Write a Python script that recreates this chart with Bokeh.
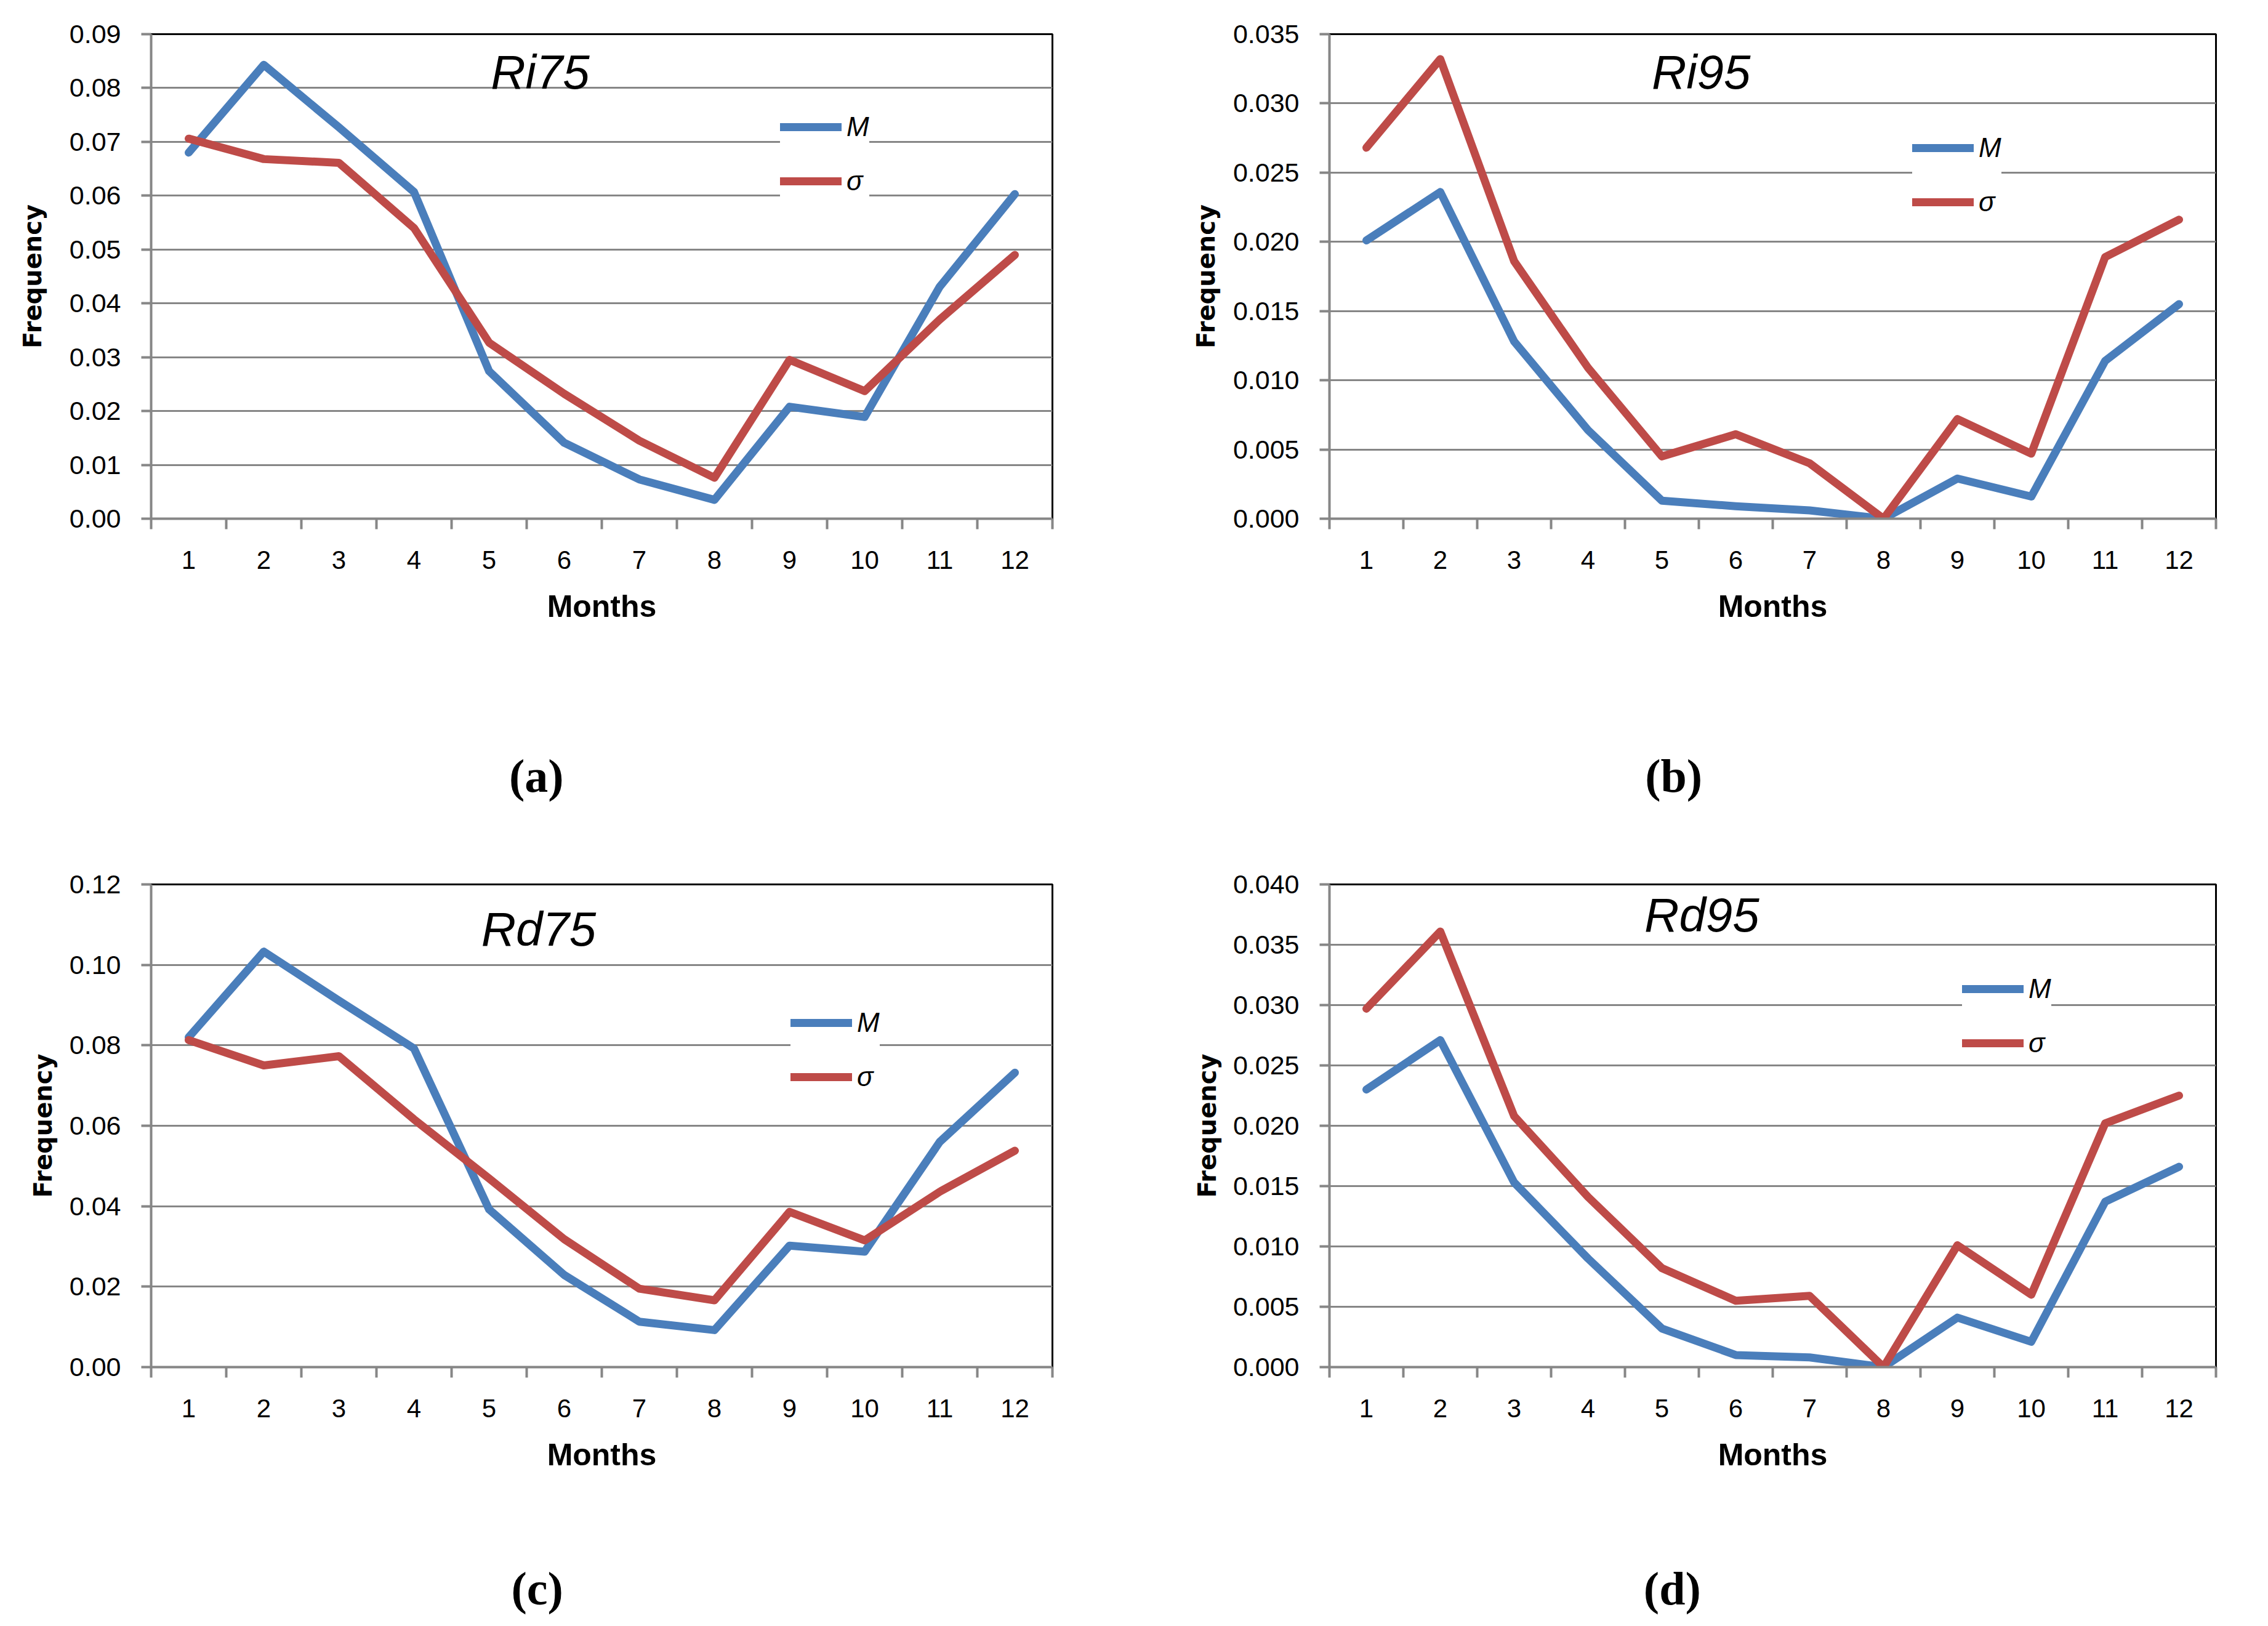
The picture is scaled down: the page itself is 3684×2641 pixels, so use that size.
from bokeh.plotting import figure
from bokeh.models import (Range1d, FixedTicker, PrintfTickFormatter, Legend,
                          LegendItem, Label, LinearAxis)
from bokeh.layouts import row, column
from bokeh.embed import file_html
from bokeh.resources import INLINE

# ---------------- data ----------------
months = list(range(1, 13))

ri75_M = [0.0680, 0.0843, 0.0727, 0.0607, 0.0274, 0.0141, 0.0073, 0.0035, 0.0208, 0.0189, 0.0431, 0.0603]
ri75_S = [0.0706, 0.0668, 0.0661, 0.0540, 0.0327, 0.0232, 0.0145, 0.0076, 0.0295, 0.0237, 0.0370, 0.0490]

ri95_M = [0.0201, 0.0236, 0.0128, 0.0064, 0.0013, 0.0009, 0.0006, 0.0000, 0.0029, 0.0016, 0.0114, 0.0155]
ri95_S = [0.0268, 0.0332, 0.0186, 0.0109, 0.0045, 0.0061, 0.0040, 0.0000, 0.0072, 0.0047, 0.0189, 0.0216]

rd75_M = [0.0820, 0.1033, 0.0911, 0.0792, 0.0392, 0.0229, 0.0113, 0.0092, 0.0302, 0.0287, 0.0560, 0.0732]
rd75_S = [0.0813, 0.0750, 0.0773, 0.0616, 0.0469, 0.0318, 0.0195, 0.0166, 0.0386, 0.0315, 0.0436, 0.0538]

rd95_M = [0.0230, 0.0271, 0.0153, 0.0090, 0.0032, 0.0010, 0.0008, 0.0000, 0.0041, 0.0021, 0.0137, 0.0166]
rd95_S = [0.0297, 0.0361, 0.0208, 0.0141, 0.0082, 0.0055, 0.0059, 0.0000, 0.0101, 0.0060, 0.0202, 0.0225]

ticks_a = [0.00, 0.01, 0.02, 0.03, 0.04, 0.05, 0.06, 0.07, 0.08, 0.09]
ticks_b = [0.000, 0.005, 0.010, 0.015, 0.020, 0.025, 0.030, 0.035]
ticks_c = [0.00, 0.02, 0.04, 0.06, 0.08, 0.10, 0.12]
ticks_d = [0.000, 0.005, 0.010, 0.015, 0.020, 0.025, 0.030, 0.035, 0.040]

series_names = ["M", "σ"]
titles = ["Ri75", "Ri95", "Rd75", "Rd95"]
panel_tags = ["(a)", "(b)", "(c)", "(d)"]

BLUE = "#4a7ebb"
RED = "#be4b48"
GRAY = "#868686"
FONT = "Liberation Sans"

FIG_W, FIG_H = 1834, 1312

# layout per panel (borders in px, annotation anchors)
panels = [
    dict(M=ri75_M, S=ri75_S, ticks=ticks_a, fmt="%.2f", title=titles[0], tag=panel_tags[0],
         left=245, right=125, top=55, bottom=470, ttl=(5.68, 124),
         leg=(1022, 523), ystand=34, tag_x=5.63, tag_stand=202),
    dict(M=ri95_M, S=ri95_S, ticks=ticks_b, fmt="%.3f", title=titles[1], tag=panel_tags[1],
         left=325, right=69, top=55, bottom=470, ttl=(5.53, 124),
         leg=(947, 489), ystand=18, tag_x=5.16, tag_stand=202),
    dict(M=rd75_M, S=rd75_S, ticks=ticks_c, fmt="%.2f", title=titles[2], tag=panel_tags[2],
         left=245, right=125, top=124, bottom=398, ttl=(5.66, 1525 - 1320),
         leg=(1039, 446), ystand=17, tag_x=5.64, tag_stand=144),
    dict(M=rd95_M, S=rd95_S, ticks=ticks_d, fmt="%.3f", title=titles[3], tag=panel_tags[3],
         left=325, right=69, top=124, bottom=398, ttl=(5.54, 1502 - 1320),
         leg=(1028, 501), ystand=16, tag_x=5.14, tag_stand=144),
]


def make_panel(cfg):
    ymin, ymax = cfg["ticks"][0], cfg["ticks"][-1]
    p = figure(width=FIG_W, height=FIG_H, output_backend="svg", toolbar_location=None,
               x_range=Range1d(0.5, 12.5), y_range=Range1d(ymin, ymax),
               min_border_left=cfg["left"], min_border_right=cfg["right"],
               min_border_top=cfg["top"], min_border_bottom=cfg["bottom"])
    p.background_fill_color = "white"
    p.border_fill_color = "white"
    p.outline_line_color = "black"
    p.outline_line_width = 3

    # lines
    rM = p.line(months, cfg["M"], line_color=BLUE, line_width=13,
                line_cap="round", line_join="round")
    rS = p.line(months, cfg["S"], line_color=RED, line_width=13,
                line_cap="round", line_join="round")

    # x axis
    xa = p.xaxis[0]
    xa.ticker = FixedTicker(ticks=months, minor_ticks=[m - 0.5 for m in months] + [months[-1] + 0.5])
    xa.major_tick_line_color = None
    xa.major_tick_out = 0
    xa.major_tick_in = 0
    xa.minor_tick_line_color = GRAY
    xa.minor_tick_line_width = 4
    xa.minor_tick_out = 17
    xa.minor_tick_in = 0
    xa.axis_line_color = GRAY
    xa.axis_line_width = 4
    xa.major_label_text_font = FONT
    xa.major_label_text_font_size = "42px"
    xa.major_label_text_color = "black"
    xa.major_label_standoff = 35
    xa.axis_label = "Months"
    xa.axis_label_text_font = FONT
    xa.axis_label_text_font_style = "bold"
    xa.axis_label_text_font_size = "50px"
    xa.axis_label_text_color = "black"
    xa.axis_label_standoff = 30

    # panel tag, shown as the only label of a bare axis under the x axis
    tag_axis = LinearAxis(ticker=FixedTicker(ticks=[cfg["tag_x"]], minor_ticks=[]),
                          major_label_overrides={cfg["tag_x"]: cfg["tag"]})
    tag_axis.axis_line_color = None
    tag_axis.major_tick_line_color = None
    tag_axis.minor_tick_line_color = None
    tag_axis.major_tick_out = 0
    tag_axis.major_label_standoff = cfg["tag_stand"]
    tag_axis.major_label_text_font = "Liberation Serif"
    tag_axis.major_label_text_font_style = "bold"
    tag_axis.major_label_text_font_size = "76px"
    tag_axis.major_label_text_color = "black"
    p.add_layout(tag_axis, "below")

    # y axis
    ya = p.yaxis[0]
    ya.ticker = FixedTicker(ticks=cfg["ticks"], minor_ticks=[])
    ya.formatter = PrintfTickFormatter(format=cfg["fmt"])
    ya.major_tick_line_color = GRAY
    ya.major_tick_line_width = 4
    ya.major_tick_out = 16
    ya.major_tick_in = 0
    ya.minor_tick_line_color = None
    ya.axis_line_color = GRAY
    ya.axis_line_width = 4
    ya.major_label_text_font = FONT
    ya.major_label_text_font_size = "43px"
    ya.major_label_text_color = "black"
    ya.major_label_standoff = 33
    ya.axis_label = "Frequency"
    ya.axis_label_text_font = "DejaVu Sans"
    ya.axis_label_text_font_style = "bold"
    ya.axis_label_text_font_size = "40px"
    ya.axis_label_text_color = "black"
    ya.axis_label_standoff = cfg["ystand"]

    # grid
    p.xgrid.grid_line_color = None
    p.ygrid.ticker = FixedTicker(ticks=cfg["ticks"])
    p.ygrid.grid_line_color = GRAY
    p.ygrid.grid_line_width = 3

    # inner title: x in data units, baseline given in px from the figure top
    frame_h = FIG_H - cfg["top"] - cfg["bottom"]
    base_px = cfg["ttl"][1] - 8 - cfg["top"]          # px below frame top
    ttl_y = ymax - base_px * (ymax - ymin) / frame_h
    p.add_layout(Label(x=cfg["ttl"][0], y=ttl_y, text=cfg["title"],
                       text_font=FONT, text_font_style="italic", text_font_size="78px",
                       text_align="center", text_baseline="alphabetic", text_color="black"))

    # legend
    leg = Legend(items=[LegendItem(label=series_names[0], renderers=[rM]),
                        LegendItem(label=series_names[1], renderers=[rS])],
                 location=cfg["leg"], orientation="vertical")
    leg.background_fill_color = "white"
    leg.background_fill_alpha = 1.0
    leg.border_line_color = None
    leg.label_text_font = FONT
    leg.label_text_font_style = "italic"
    leg.label_text_font_size = "44px"
    leg.label_text_color = "black"
    leg.glyph_width = 100
    leg.glyph_height = 40
    leg.label_height = 40
    leg.label_standoff = 8
    leg.spacing = 38
    leg.padding = 22
    leg.margin = 0
    p.add_layout(leg, "center")
    return p


figs = [make_panel(c) for c in panels]
layout = column(row(figs[0], figs[1], spacing=0), row(figs[2], figs[3], spacing=0), spacing=0)

open("out.html", "w").write(file_html(layout, INLINE))
